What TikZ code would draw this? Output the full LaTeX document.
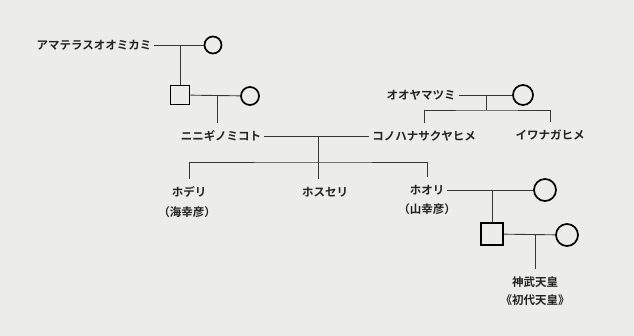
\documentclass[tikz,border=0pt]{standalone}
\usepackage{fontspec}
\setmainfont{Noto Sans CJK JP}[BoldFont={Noto Sans CJK JP Bold}]
\definecolor{paper}{RGB}{236,236,234}
\definecolor{ink}{RGB}{35,35,35}
\definecolor{lineink}{RGB}{55,55,55}
\begin{document}
\begin{tikzpicture}[x=1pt,y=-1pt,
  lbl/.style={inner sep=0pt, outer xsep=3pt, outer ysep=8pt, text=ink, font=\fontsize{11.5}{12}\selectfont\bfseries},
  circ/.style={circle, draw=black, line width=1.7pt, minimum size=#1, inner sep=0pt},
  sqr/.style={rectangle, draw=black, line width=1.7pt, minimum size=#1, inner sep=0pt},
  conn/.style={draw=lineink, line width=0.9pt}]
\fill[paper] (0,0) rectangle (634,336);
\useasboundingbox (0,0) rectangle (634,336);
% generation 1
\node[lbl] (ama) at (94,45) {アマテラスオオミカミ};
\node[circ=17pt] (c1) at (213,45) {};
\coordinate (j1) at (180,45);
\node[sqr=19pt] (sq1) at (180,95) {};
\node[circ=18pt] (c2) at (250,96) {};
\coordinate (j2) at (217,96);
\node[lbl] (nini) at (221,136) {ニニギノミコト};
% Ooyamatsumi
\node[lbl] (ooya) at (421,95) {オオヤマツミ};
\node[circ=20pt] (c3) at (523,95) {};
\coordinate (j4) at (486,95);
\coordinate (j5) at (486,110);
\node[lbl] (kono) at (424,136) {コノハナサクヤヒメ};
\node[lbl] (iwa) at (550,135) {イワナガヒメ};
% children
\coordinate (j3) at (318,136);
\coordinate (jbar) at (318,162);
\node[lbl] (hoderi) at (189,192) {ホデリ};
\node[lbl] (hoderi2) at (187,212) {（海幸彦）};
\node[lbl] (hosu) at (325,192) {ホスセリ};
\node[lbl] (hoori) at (427,190) {ホオリ};
\node[lbl] (hoori2) at (427,209) {（山幸彦）};
% Jimmu line
\node[circ=22pt] (c5) at (545,190) {};
\coordinate (j6) at (492,190);
\node[sqr=22pt] (sq2) at (492,234) {};
\node[circ=22pt] (c6) at (567,235) {};
\coordinate (j7) at (535,235);
\node[lbl] (jimmu) at (535,282) {神武天皇};
\node[lbl] (jimmu2) at (535,300) {《初代天皇》};
% connectors
\draw[conn] (ama) -- (c1);
\draw[conn] (j1) -- (sq1);
\draw[conn] (sq1) -- (c2);
\draw[conn] (j2) -- (j2 |- nini.north);
\draw[conn] (nini) -- (kono);
\draw[conn] (ooya) -- (c3);
\draw[conn] (j4) -- (j5);
\draw[conn] (kono.north) |- (j5) -| (iwa.north);
\draw[conn] (j3) -- (j3 |- hosu.north);
\draw[conn] (hoderi.north) |- (jbar) -| (hoori.north);
\draw[conn] (hoori) -- (c5);
\draw[conn] (j6) -- (sq2);
\draw[conn] (sq2) -- (c6);
\draw[conn] (j7) -- (jimmu.north);
\end{tikzpicture}
\end{document}
